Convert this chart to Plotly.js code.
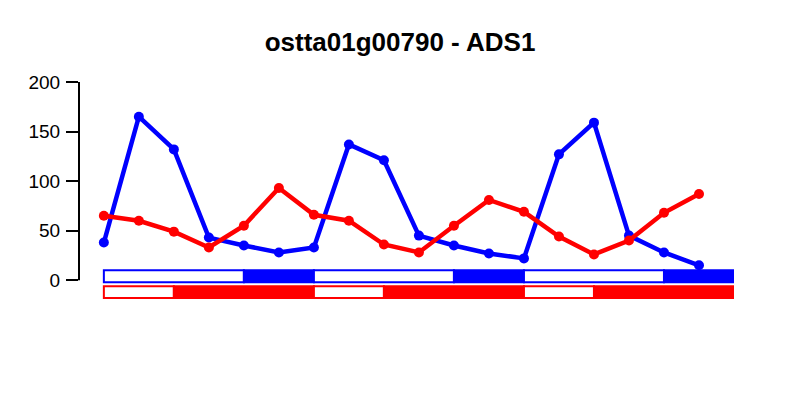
<!DOCTYPE html>
<html><head><meta charset="utf-8">
<script src="https://cdn.plot.ly/plotly-3.0.1.min.js"></script>
<style>body{margin:0}</style></head>
<body><div id="chart" style="width:800px;height:400px"></div>
<script>
var xs = [0,1,2,3,4,5,6,7,8,9,10,11,12,13,14,15,16,17];
var blue = [38,165,132,43,35,28,33,137,121,45,35,27,22,127,159,45,28,15];
var red = [65,60,49,33,55,93,66,60,36,28,55,81,69,44,26,40,68,87];
// light / dark phases: [start, end, filled]
var bluePhases = [[0,4,0],[4,6,1],[6,10,0],[10,12,1],[12,16,0],[16,18,1]];
var redPhases = [[0,2,0],[2,6,1],[6,8,0],[8,12,1],[12,14,0],[14,18,1]];

var shapes = [];
function addBar(phases, col, y0, y1) {
    phases.forEach(function (p) {
        shapes.push({type: 'rect', xref: 'x', yref: 'y', x0: p[0], x1: p[1], y0: y0, y1: y1,
            fillcolor: p[2] ? col : 'white', line: {color: col, width: 2}});
    });
}
addBar(bluePhases, 'blue', -2, 10);
addBar(redPhases, 'red', -18, -6);
shapes.push({type: 'line', xref: 'paper', yref: 'y', x0: 0, x1: 0, y0: 0, y1: 200,
    line: {color: 'black', width: 2}});

var data = [
    {x: xs, y: blue, mode: 'lines+markers', line: {color: 'blue', width: 4.5},
        marker: {color: 'blue', size: 10}},
    {x: xs, y: red, mode: 'lines+markers', line: {color: 'red', width: 4.5},
        marker: {color: 'red', size: 10}}
];

var layout = {
    width: 800, height: 400,
    margin: {l: 79, r: 66, t: 82, b: 100},
    showlegend: false,
    plot_bgcolor: 'white', paper_bgcolor: 'white',
    font: {family: 'Liberation Sans, Arial, sans-serif', size: 19, color: 'black'},
    title: {text: '<b>ostta01g00790 - ADS1</b>', x: 0.5, xanchor: 'center', y: 0.895, yanchor: 'middle', font: {size: 26}},
    xaxis: {range: [-0.71, 18], visible: false, showgrid: false, zeroline: false},
    yaxis: {range: [-20, 200], tickvals: [0, 50, 100, 150, 200], ticks: 'outside',
        ticklen: 12, tickwidth: 2, tickcolor: 'black', showgrid: false, zeroline: false,
        showline: false, ticklabelstandoff: 2},
    shapes: shapes
};

Plotly.newPlot('chart', data, layout, {displayModeBar: false});
</script></body></html>
